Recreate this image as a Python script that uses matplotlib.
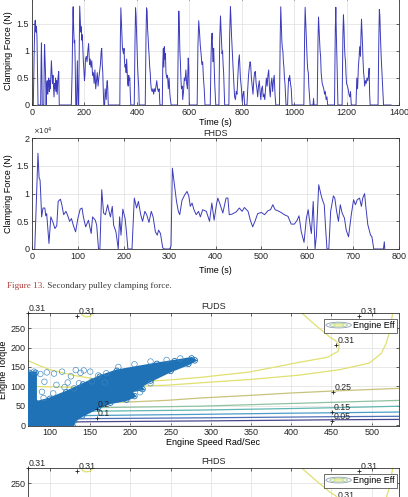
import numpy as np
import matplotlib.pyplot as plt
from matplotlib.ticker import FuncFormatter
from matplotlib.patches import Ellipse
from matplotlib.legend_handler import HandlerBase

plt.rcParams['font.family'] = ['Liberation Sans', 'DejaVu Sans']

# ---- FUDS clamping force (N) ----
fuds_t = [0, 5, 8, 11, 13, 15, 17, 19, 21, 23,
          33, 35, 36, 38, 39,
          45, 47, 48, 50, 52, 54,
          56, 58, 60, 62, 64, 66, 68, 70, 72, 74, 76, 78, 80, 82, 84, 86, 88, 90, 92, 94, 96, 99, 102, 104,
          150, 153, 156, 157, 159, 161, 163, 165, 167, 170, 172, 173, 175, 176,
          178, 180, 182, 184, 186, 188, 190, 192, 194, 196, 198, 200, 202, 204, 207, 210, 213, 216, 218, 220,
          222, 225, 228, 231, 234, 237, 240, 243, 246, 249, 252, 255, 258, 261, 264, 266, 268, 270, 272, 274,
          277, 279, 281, 283, 285, 287, 289, 291,
          335, 337, 339, 341, 343, 345, 347, 349, 351, 353, 355, 357, 359, 361, 363, 365, 367, 369, 371, 373, 375, 377,
          390, 393, 395, 397, 399, 401, 403, 405, 407, 409,
          432, 435, 437, 439, 441, 443, 445, 447, 449, 451, 453, 455, 458, 461, 464, 467, 470, 473, 476, 479, 482, 485, 488,
          497, 499, 501, 503, 505, 507, 509, 511, 514, 517, 520, 523, 526, 528, 531,
          555, 558, 560, 562, 564, 566, 568, 570, 573, 575, 578, 581, 584, 587, 590, 593, 596, 598, 600,
          630, 633, 636, 639, 642, 645, 648, 651, 654, 657, 660,
          680, 683, 685, 687, 689, 691, 693, 695, 697, 699, 701,
          713, 716, 719, 721, 723, 725, 727, 729, 731, 733, 735,
          751, 754, 757, 759, 761, 763, 765, 767, 769, 771, 773, 776, 779, 782, 785, 788, 791, 793, 795, 797, 799,
          802, 805, 808, 811,
          820, 823, 826, 829, 832, 834, 837, 840, 843, 846, 849, 852, 855, 858, 861, 864, 867, 870, 873, 876, 879,
          882, 885, 888, 891, 894, 897, 900, 903, 906, 909, 912, 915, 918, 921, 924, 927, 930,
          944, 947, 949, 951, 953, 955, 957, 959, 961, 963, 965, 967, 969, 975, 977, 979, 981, 983, 986, 989, 992,
          1037, 1040, 1042, 1044, 1046, 1048, 1050, 1052, 1054, 1056, 1058, 1061, 1072, 1074, 1076,
          1088, 1091, 1093, 1095, 1097, 1099, 1101, 1103, 1105, 1107, 1110, 1113, 1116, 1119, 1122, 1125, 1128,
          1154, 1157, 1159, 1161, 1163, 1165, 1167,
          1183, 1186, 1188, 1190, 1192, 1194, 1196, 1198, 1200, 1203, 1206, 1209, 1212, 1215, 1218,
          1236, 1239, 1242, 1245, 1248, 1250, 1253, 1255, 1257, 1259, 1261, 1263, 1265, 1267, 1269, 1272, 1275,
          1278, 1281, 1284, 1286, 1288, 1290,
          1320, 1323, 1325, 1327, 1329, 1332, 1335, 1338, 1341, 1370]
fuds_f = [0, 0, 0.9, 1.55, 1.57, 1.35, 1.45, 1.25, 0.6, 0,
          0, 0.9, 1.15, 0.5, 0,
          0, 0.9, 1.12, 0.8, 0.5, 0,
          0.35, 0.45, 0.2, 0.4, 0.5, 0.25, 0.45, 0.3, 0.55, 0.82, 0.6, 0.4, 0.55, 0.35, 0.15, 0.4, 0.3, 0.5, 0.25, 0.45, 0.2, 0.5, 0.62, 0,
          0, 0.6, 1.7, 1.82, 1.4, 1.15, 1.2, 0.7, 0, 0, 0.5, 0.82, 0.3, 0,
          0, 1.0, 1.83, 1.6, 1.35, 1.45, 1.2, 1.3, 1.05, 0.8, 0.65, 0.45, 0.55, 0.85, 0.9, 0.8, 1.0, 1.14, 0.9, 0.75,
          0.85, 0.7, 0.82, 0.55, 0.6, 0.4, 0.65, 0.3, 0.45, 0.6, 0.35, 0.5, 0.62, 0.75, 1.0, 1.05, 0.75, 0.6, 0.25, 0,
          0, 0.3, 0.2, 0.1, 0.35, 0.45, 0.3, 0,
          0, 1.2, 1.8, 1.55, 1.3, 1.05, 1.0, 0.95, 1.05, 0.8, 0.7, 0.75, 0.6, 0.85, 0.6, 0.4, 0.35, 0.55, 0.45, 0.5, 0.2, 0,
          0, 1.2, 1.8, 1.65, 1.3, 1.0, 0.7, 0.5, 0.35, 0,
          0, 1.3, 1.8, 1.75, 1.4, 1.25, 1.05, 0.9, 0.7, 0.6, 0.4, 0.3, 0.25, 0.3, 0.2, 0.3, 0.25, 0.35, 0.45, 0.3, 0.25, 0.3, 0,
          0, 0.8, 1.05, 0.7, 1.08, 0.85, 0.95, 0.6, 0.5, 0.55, 0.3, 0.5, 0.2, 0.1, 0,
          0, 1.2, 1.74, 1.5, 1.0, 0.8, 0.5, 0.3, 0.35, 0.1, 0.25, 0.5, 0.45, 0.65, 0.4, 0.3, 0.87, 0.7, 0,
          0, 1.1, 1.56, 1.35, 1.1, 0.95, 0.75, 0.8, 0.5, 0.3, 0,
          0, 0.9, 1.2, 1.33, 1.0, 0.8, 1.05, 0.7, 0.4, 0.2, 0,
          0, 1.2, 1.65, 1.4, 1.2, 0.95, 1.0, 0.75, 0.6, 0.3, 0,
          0, 1.3, 1.82, 1.6, 1.3, 1.1, 0.9, 0.7, 0.5, 0.3, 0.15, 0.1, 0.25, 0.2, 0.5, 0.8, 0.93, 0.7, 0.5, 0.4, 0.3,
          0.05, 0.2, 0.25, 0,
          0, 0.3, 0.55, 0.7, 0.8, 0.75, 0.5, 0.35, 0.2, 0.45, 0.6, 0.62, 0.4, 0.3, 0.15, 0.35, 0.45, 0.25, 0.1, 0.3, 0.35,
          0.15, 0.2, 0.1, 0.3, 0.5, 0.35, 0.55, 0.65, 0.3, 0.15, 0.4, 0.5, 0.25, 0.45, 0.55, 0.2, 0,
          0, 1.3, 1.82, 1.5, 1.2, 1.05, 1.0, 0.8, 0.7, 0.5, 0.4, 0.2, 0, 0, 0.3, 0.5, 0.45, 0.55, 0.4, 0.3, 0,
          0, 1.3, 1.81, 1.55, 1.3, 1.0, 0.8, 0.65, 0.6, 0.35, 0.2, 0, 0, 0.12, 0,
          0, 1.2, 1.63, 1.4, 1.2, 1.0, 0.9, 0.6, 0.5, 0.4, 0.35, 0.3, 0.2, 0.25, 0.1, 0.15, 0,
          0, 1.4, 1.81, 1.3, 0.9, 0.4, 0,
          0, 1.3, 1.67, 1.45, 1.1, 0.9, 0.8, 0.55, 0.4, 0.35, 0.3, 0.2, 0.15, 0.25, 0,
          0, 0.5, 0.3, 0.7, 0.9, 1.08, 0.9, 1.3, 1.59, 1.35, 1.1, 0.8, 0.6, 0.5, 0.35, 0.45, 0.4,
          0.5, 0.45, 0.55, 0.68, 0.2, 0,
          0, 1.2, 1.77, 1.65, 1.3, 0.9, 0.6, 0.3, 0, 0]

# ---- FHDS clamping force (x1e4 N) ----
fhds_t = [6, 10, 13, 15.5, 17.5, 19, 21, 24, 28, 30, 32, 35, 37, 41, 45, 50, 54, 57, 62, 65, 69, 74, 78, 82, 86,
          90, 95, 100, 105, 109, 112, 117, 123, 129, 132, 138, 141, 145, 148, 152, 156, 160, 165, 167, 171, 175,
          178, 183, 188, 191, 194, 198, 203, 206, 209, 218, 223, 228, 232, 237, 241, 246, 250, 255, 260, 264, 269,
          273, 276, 280, 285, 289, 300, 303, 306, 310, 315, 319, 322, 327, 333, 338, 342, 345, 349, 353, 358, 363,
          367, 372, 380, 387, 392, 397, 402, 405, 409, 416, 423, 427, 430, 436, 445, 452, 458, 463, 471, 476, 481,
          486, 492, 500, 507, 514, 520, 525, 530, 536, 543, 550, 558, 565, 572, 578, 582, 587, 593, 598, 602, 607,
          609, 613, 617, 620, 625, 630, 633, 637, 640, 643, 647, 651, 657, 660, 664, 668, 672, 676, 681, 685, 690,
          696, 701, 705, 709, 714, 718, 721, 725, 728, 732, 738, 741, 745, 766, 768, 769]
fhds_f = [0, 1.0, 1.73, 1.28, 1.25, 1.0, 0.58, 0.74, 0.74, 0.6, 0.64, 0.31, 0.1, 0.58, 0.5, 0.37, 0.42, 0.86, 0.9,
          0.8, 0.62, 0.68, 0.6, 0.5, 0.55, 0.43, 0.31, 0.55, 0.72, 0.74, 0.58, 0.4, 0.52, 0.28, 0.58, 0.52, 0.43, 0,
          0, 1.07, 0.65, 0.62, 0.8, 0.71, 0.58, 0.77, 0.43, 0.31, 0, 0.58, 0.25, 0.72, 0.55, 0.3, 0, 0, 0.92, 0.74,
          0.86, 0.62, 0.5, 0.68, 0.62, 0.48, 0.68, 0.58, 0.31, 0.25, 0.34, 0.28, 0.02, 0, 0, 0.05, 1.46, 1.19, 0.86,
          0.68, 0.62, 0.88, 0.98, 1.04, 0.95, 0.77, 0.83, 0.71, 0.62, 0.68, 0.58, 0.71, 0.68, 0.5, 0.83, 0.52, 0.8,
          0.92, 0.83, 0.65, 0.92, 0.92, 0.62, 0.63, 0.67, 0.74, 0.68, 0.75, 0.68, 0.52, 0.4, 0.5, 0.64, 0.66, 0.62,
          0.69, 0.71, 0.8, 0.71, 0.69, 0.66, 0.62, 0.59, 0.45, 0.45, 0.52, 0.6, 0.31, 0.12, 0.55, 0.71, 0.38, 0.28,
          0.86, 0, 0.25, 1.16, 0.98, 0.89, 0.8, 0.38, 0, 0, 0.68, 0.96, 0.92, 0.68, 0.5, 0.8, 0.65, 0.56, 0.34, 0.22,
          0.62, 0.89, 0.8, 0.89, 0.92, 0.77, 0.92, 1.0, 0.74, 0.44, 0.25, 0.22, 0, 0, 0.13, 0]

# ---- engine efficiency contour lines (speed rad/s, torque) ----
eff_speed = [[72, 85, 100, 130, 160, 200, 245, 286, 348, 410, 445, 458, 460, 455, 448, 430, 413],
             [72, 120, 180, 245, 286, 350, 410, 460, 497, 512, 518, 523, 526],
             [139, 140, 144, 149, 152, 153],
             [72, 150, 200, 245, 286, 350, 400, 451, 535],
             [72, 150, 286, 400, 451, 535],
             [72, 150, 286, 400, 451, 535],
             [72, 150, 286, 400, 451, 535],
             [72, 150, 286, 400, 451, 535],
             [72, 150, 286, 400, 451, 535]]
eff_torque = [[167, 155, 143, 128, 118, 112, 116, 123, 137, 162, 175, 190, 206, 218, 227, 258, 289],
              [100, 98, 99, 103, 109, 118, 129, 143, 160, 185, 211, 245, 289],
              [289, 283, 279, 280, 285, 289],
              [55, 58, 60, 64, 70, 77, 83, 88, 95],
              [42, 45, 49, 56, 59, 64],
              [32, 36, 39, 43, 45, 49],
              [22, 25, 28, 31, 32, 34],
              [14, 17, 19, 21, 22, 23],
              [7, 9, 11, 13, 14, 15]]
eff_level = [0.31, 0.31, 0.31, 0.25, 0.2, 0.15, 0.1, 0.05, 0.0]

lab_speed = [72, 134, 484, 456, 452, 451, 451, 158, 158]
lab_torque = [289, 280, 281, 206, 86, 33, 12, 41, 18]
lab_text = ['0.31', '0.31', '0.31', '0.31', '0.25', '0.15', '0.05', '0.2', '0.1']

# ---- FUDS operating points ----
core_speed = [74, 74, 82, 82, 100, 120, 141, 162, 183, 233, 255, 276, 280, 272, 250, 225, 212, 215,
              200, 205, 195, 175, 160, 140, 130, 128]
core_torque = [-2, 135, 135, 58, 68, 85, 105, 125, 140, 158, 165, 172, 167, 158, 140, 115, 100, 93,
               88, 75, 66, 58, 46, 25, 12, -2]
pt_speed = [88, 96, 105, 115, 126, 138, 150, 160, 93, 108, 122, 136, 152, 90, 104, 118, 130,
            170, 185, 205, 225, 245, 262, 212, 225, 168, 92, 80, 142, 132]
pt_torque = [132, 136, 133, 138, 126, 135, 138, 128, 112, 104, 110, 108, 113, 86, 82, 98, 95,
             134, 150, 157, 164, 168, 172, 85, 108, 110, 70, 138, 141, 142]

W, H = 408, 497
fig = plt.figure(figsize=(W / 100, H / 100), dpi=100)
line_c = '#3b3bbb'
dot_c = '#1f72b6'
eff_c = {0.31: '#e0e070', 0.25: '#c8c27c', 0.2: '#90c2a2', 0.15: '#5fb6b2',
         0.1: '#4a9dc8', 0.05: '#4d70b6', 0.0: '#4a488c'}


def box(l, t, r, b):
    return [l / W, 1 - b / H, (r - l) / W, (b - t) / H]


def matlab_style(ax):
    ax.tick_params(direction='in', length=2.5, width=0.5, top=True, right=True,
                   labelsize=6.5, colors='#262626', pad=2)
    ax.grid(True, color='#dedede', lw=0.5)
    ax.set_axisbelow(True)
    for s in ax.spines.values():
        s.set_linewidth(0.6)
        s.set_color('#333333')


fmt = FuncFormatter(lambda v, p: '%g' % v)

# top panel (FUDS force)
ax1 = fig.add_axes(box(32, -3, 399, 105))
ax1.plot(fuds_t, fuds_f, color=line_c, lw=0.7)
ax1.set_xlim(0, 1400)
ax1.set_ylim(0, 2)
ax1.set_xticks(np.arange(0, 1401, 200))
ax1.set_yticks([0, 0.5, 1, 1.5])
ax1.yaxis.set_major_formatter(fmt)
matlab_style(ax1)
ax1.set_xlabel('Time (s)', fontsize=6.5, labelpad=1)
ax1.set_ylabel('Clamping Force (N)', fontsize=6.5, labelpad=3)

# second panel (FHDS force)
ax2 = fig.add_axes(box(32, 138.3, 399, 249))
ax2.plot(fhds_t, fhds_f, color=line_c, lw=0.7)
ax2.set_xlim(0, 800)
ax2.set_ylim(0, 2)
ax2.set_xticks(np.arange(0, 801, 100))
ax2.set_yticks([0, 0.5, 1, 1.5, 2])
ax2.yaxis.set_major_formatter(fmt)
matlab_style(ax2)
ax2.set_title('FHDS', fontsize=6.5, pad=2, color='#262626')
ax2.text(0.003, 1.01, r'$\times10^4$', transform=ax2.transAxes, fontsize=5, va='bottom', color='#262626')
ax2.set_xlabel('Time (s)', fontsize=6.5, labelpad=4)
ax2.set_ylabel('Clamping Force (N)', fontsize=6.5, labelpad=3)

# caption
cap1 = fig.text(7 / W, 1 - 286 / H, 'Figure 13.', color='#b03c38', fontsize=6.6,
                family='Liberation Serif', va='center')
fig.canvas.draw()
bb = cap1.get_window_extent(fig.canvas.get_renderer())
fig.text(bb.x1 / W, 1 - 286 / H, ' Secondary pulley clamping force.', color='#3a3a3a',
         fontsize=6.6, family='Liberation Serif', va='center')


class EffIcon:
    pass


class HandlerRings(HandlerBase):
    def create_artists(self, legend, orig_handle, xdescent, ydescent, width, height, fontsize, trans):
        cx, cy = width / 2 - xdescent, height / 2 - ydescent
        out = []
        for fw, fh, c in [(1.0, 0.9, '#9fa8bd'), (0.7, 0.6, '#a9d3b0'), (0.4, 0.3, '#e3e37a')]:
            out.append(Ellipse((cx, cy), width * fw, height * fh, fill=False, edgecolor=c, lw=0.7,
                               transform=trans))
        return out


def eff_map(ax, title, points=True):
    for xs, ys, lev in zip(eff_speed, eff_torque, eff_level):
        ax.plot(xs, ys, color=eff_c[lev], lw=0.9, zorder=2)
    if points:
        ax.fill(core_speed, core_torque, color=dot_c, lw=2.0, zorder=3)
        ax.scatter(core_speed, core_torque, s=16, facecolors='none', edgecolors=dot_c, lw=0.6, zorder=3)
        ax.scatter(pt_speed, pt_torque, s=16, facecolors='none', edgecolors='#3b86c2', lw=0.45, zorder=3)
    ax.plot(lab_speed, lab_torque, '+', color='#222222', ms=3.5, mew=0.6, zorder=4, clip_on=False)
    for x, y, s in zip(lab_speed, lab_torque, lab_text):
        ax.annotate(s, (x, y), xytext=(1, 0), textcoords='offset points', fontsize=6.3,
                    ha='left', va='bottom', color='#262626', zorder=4, annotation_clip=False)
    ax.set_xlim(72, 534)
    ax.set_ylim(-2, 289)
    ax.set_xticks(np.arange(100, 501, 50))
    ax.set_yticks(np.arange(0, 251, 50))
    matlab_style(ax)
    ax.tick_params(pad=1.5)
    ax.set_title(title, fontsize=6.5, pad=3, color='#262626')
    ax.set_xlabel('Engine Speed Rad/Sec', fontsize=6.5, labelpad=1)
    ax.set_ylabel('Engine Torque', fontsize=6.5, labelpad=1.5)
    ax.legend([EffIcon()], ['Engine Eff'], handler_map={EffIcon: HandlerRings()},
              loc='upper right', bbox_to_anchor=(0.9946, 0.947), borderaxespad=0,
              fontsize=6.5, handlelength=2.8, handletextpad=0.2, borderpad=0.25,
              fancybox=False, framealpha=1, edgecolor='#333333').get_frame().set_linewidth(0.5)


ax3 = fig.add_axes(box(27.5, 313, 399, 426))
eff_map(ax3, 'FUDS')
ax4 = fig.add_axes(box(27.5, 468, 399, 581))
eff_map(ax4, 'FHDS', points=False)

fig.savefig('out.png', dpi=100)
